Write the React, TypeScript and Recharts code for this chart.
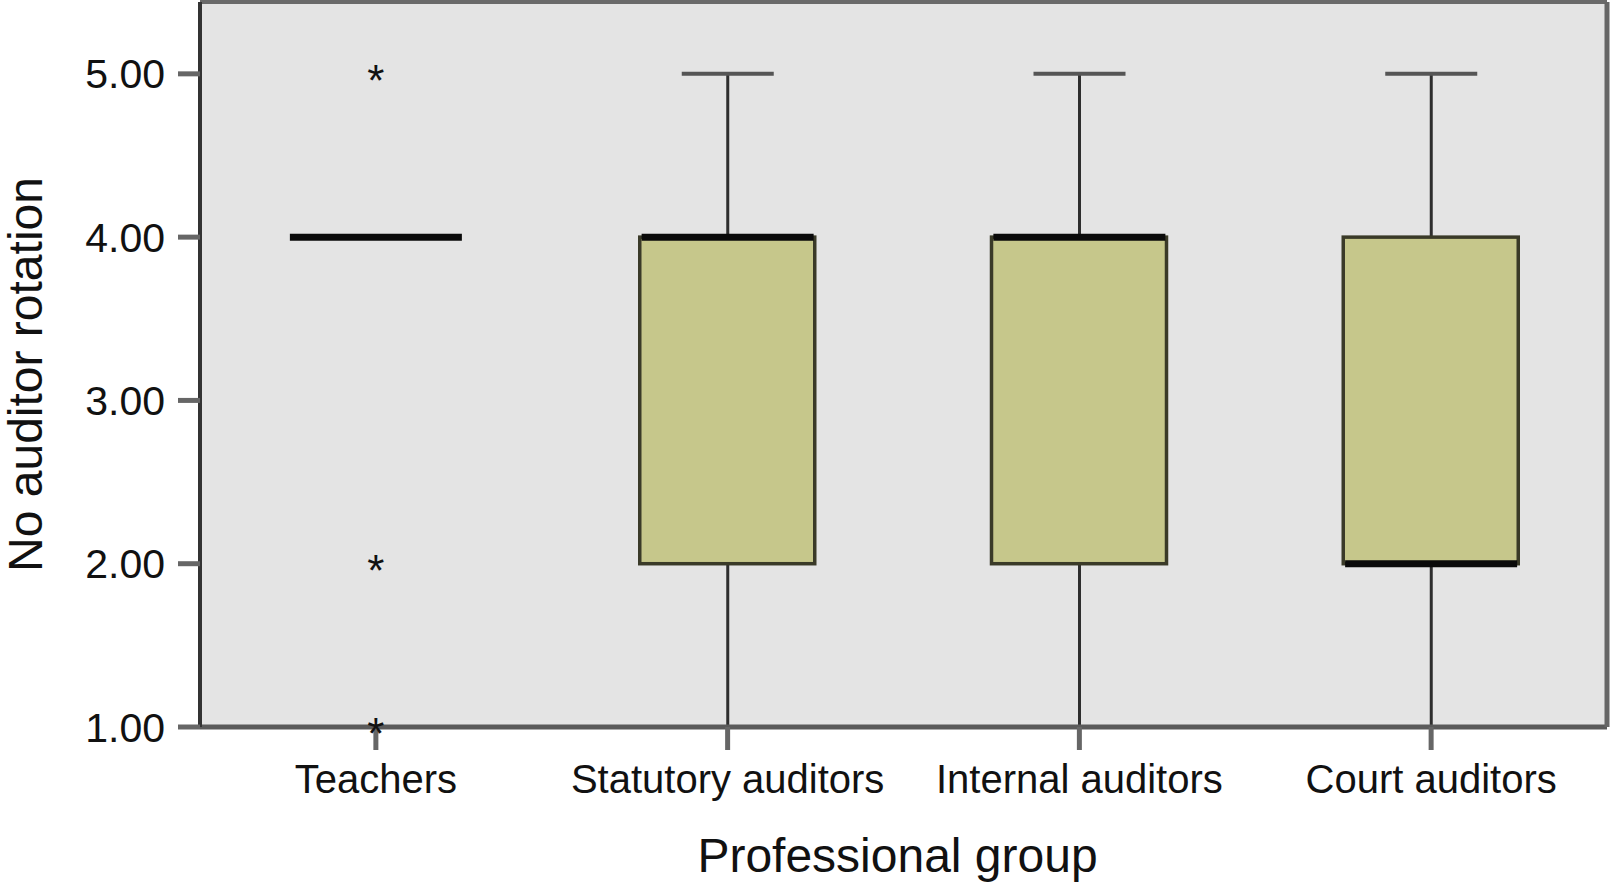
import React from 'react';
import { ComposedChart, Bar, Scatter, XAxis, YAxis, CartesianGrid } from 'recharts';

const groups = ['Teachers', 'Statutory auditors', 'Internal auditors', 'Court auditors'];
const whiskerLow = [null, 1, 1, 1];
const whiskerHigh = [null, 5, 5, 5];
const q1 = [null, 2, 2, 2];
const q3 = [null, 4, 4, 4];
const median = [4, 4, 4, 2];
const outliers = [[5, 2, 1], [], [], []];
const yTicks = [1, 2, 3, 4, 5];

const rows = groups.map((group, i) => {
  const row: any = {
    group,
    whisker: whiskerLow[i] == null ? null : [whiskerLow[i], whiskerHigh[i]],
    box: q1[i] == null ? null : [q1[i], q3[i]],
    median: median[i],
  };
  [0, 1, 2].forEach((k) => {
    row[`o${k}`] = outliers[i][k] ?? null;
  });
  return row;
});

const FONT = '"Liberation Sans", Arial, Helvetica, sans-serif';

const Whisker = (p: any) => {
  const { x, y, width, height } = p;
  if (x == null || y == null || !height) return <g />;
  const top = Math.min(y, y + height);
  const bot = Math.max(y, y + height);
  const cx = x + width / 2;
  return (
    <g>
      <line x1={cx} x2={cx} y1={top} y2={bot} stroke="#2e2e2e" strokeWidth={3} />
      <line x1={x} x2={x + width} y1={top} y2={top} stroke="#555" strokeWidth={4} />
      <line x1={x} x2={x + width} y1={bot} y2={bot} stroke="#555" strokeWidth={4} />
    </g>
  );
};

const Box = (p: any) => {
  const { x, y, width, height } = p;
  if (x == null || y == null || !height) return <g />;
  const top = Math.min(y, y + height);
  return (
    <rect x={x} y={top} width={width} height={Math.abs(height)} fill="#c6c78b" stroke="#3a3a28" strokeWidth={3.5} />
  );
};

const MedianMark = (p: any) => {
  const { cx, cy } = p;
  if (cx == null || cy == null || !isFinite(cy)) return <g />;
  return <line x1={cx - 86} x2={cx + 86} y1={cy} y2={cy} stroke="#0a0a0a" strokeWidth={7} />;
};

const outlierShape = (key: string) => (p: any) => {
  const { cx, cy, payload } = p;
  if (!payload || payload[key] == null || cy == null || !isFinite(cy)) return <g />;
  return (
    <text x={cx} y={cy} dy={22} textAnchor="middle" fontSize={44} fontFamily={FONT} fill="#111">
      *
    </text>
  );
};

export default function App() {
  return (
    <div style={{ position: 'absolute', left: 0, top: 0, background: '#fff' }}>
      <ComposedChart
        width={1615}
        height={882}
        data={rows}
        margin={{ top: 1, right: 7, bottom: 0, left: 0 }}
        style={{ fontFamily: FONT }}
      >
        <CartesianGrid horizontal={false} vertical={false} fill="#e4e4e4" />
        <XAxis
          dataKey="group"
          type="category"
          interval={0}
          height={155}
          tickSize={23}
          tickMargin={15}
          tick={{ fontSize: 40, fill: '#111', fontFamily: FONT }}
          axisLine={{ stroke: '#5a5a5a', strokeWidth: 5 }}
          tickLine={{ stroke: '#666', strokeWidth: 5 }}
          label={{
            content: (props: any) => {
              const vb = props.viewBox || { x: 200, y: 727, width: 1407, height: 155 };
              return (
                <text
                  x={vb.x + vb.width / 2 - 6}
                  y={vb.y + vb.height - 10}
                  textAnchor="middle"
                  fontSize={48}
                  fontFamily={FONT}
                  fill="#111"
                >
                  Professional group
                </text>
              );
            },
          }}
        />
        <XAxis
          xAxisId="w"
          dataKey="group"
          type="category"
          orientation="top"
          height={1}
          tick={false}
          tickLine={false}
          axisLine={{ stroke: '#6a6a6a', strokeWidth: 4 }}
        />
        <YAxis
          type="number"
          domain={[1, 5.44]}
          ticks={yTicks}
          width={200}
          tickSize={22}
          tickMargin={13}
          tickFormatter={(v: number) => v.toFixed(2)}
          tick={{ fontSize: 41, fill: '#111', fontFamily: FONT }}
          axisLine={{ stroke: '#333', strokeWidth: 4 }}
          tickLine={{ stroke: '#666', strokeWidth: 5 }}
          label={{
            content: (props: any) => {
              const vb = props.viewBox || { x: 0, y: 2, width: 200, height: 725 };
              const tx = vb.x + 42;
              const ty = vb.y + vb.height / 2 + 10;
              return (
                <text
                  x={tx}
                  y={ty}
                  transform={`rotate(-90 ${tx} ${ty})`}
                  textAnchor="middle"
                  fontSize={48}
                  fontFamily={FONT}
                  fill="#111"
                >
                  No auditor rotation
                </text>
              );
            },
          }}
        />
        <YAxis
          yAxisId="r"
          orientation="right"
          type="number"
          domain={[1, 5.44]}
          width={1}
          tick={false}
          tickLine={false}
          axisLine={{ stroke: '#666', strokeWidth: 5 }}
        />
        <Bar xAxisId="w" dataKey="whisker" barSize={92} shape={<Whisker />} isAnimationActive={false} />
        <Bar yAxisId="r" dataKey="box" barSize={175} shape={<Box />} isAnimationActive={false} />
        <Scatter dataKey="median" shape={<MedianMark />} isAnimationActive={false} zIndex={900} />
        {[0, 1, 2].map((k) => (
          <Scatter
            key={k}
            dataKey={`o${k}`}
            shape={outlierShape(`o${k}`)}
            isAnimationActive={false}
            zIndex={1000}
          />
        ))}
      </ComposedChart>
    </div>
  );
}
